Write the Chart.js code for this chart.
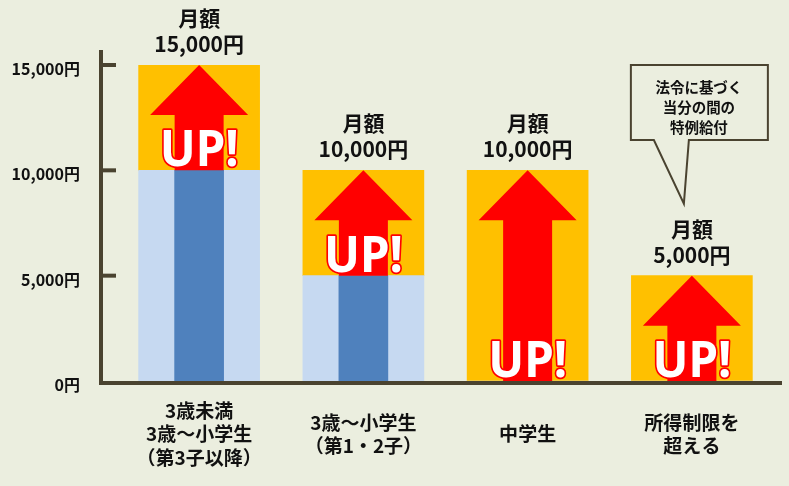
<!DOCTYPE html>
<html><head><meta charset="utf-8">
<script src="https://cdn.jsdelivr.net/npm/chart.js@4.4.1/dist/chart.umd.min.js"></script>
<style>html,body{margin:0;padding:0;background:#ebeedf;}canvas{display:block}</style>
</head><body><canvas id="c" width="789" height="486"></canvas>
<script>
const categories = [["3歳未満","3歳〜小学生","（第3子以降）"],["3歳〜小学生","（第1・2子）"],"中学生",["所得制限を","超える"]];
const previousAmount = [10000, 5000, 0, 0];
const increaseAmount = [5000, 5000, 10000, 5000];
const yTickValues = [0, 5000, 10000, 15000];
const calloutLines = ["法令に基づく","当分の間の","特例給付"];
const upLabel = "UP!";
const amountPrefix = "月額";
const currency = "円";

const BG = '#ebeedf', AXIS = '#4a4330';
const JP = '"Noto Sans CJK JP","Noto Sans",sans-serif';

const bgPlugin = {
  id:'bg',
  beforeDraw(chart){
    const c = chart.ctx; c.save(); c.fillStyle = BG; c.fillRect(0,0,chart.width,chart.height); c.restore();
  }
};

const decoPlugin = {
  id:'deco',
  afterDatasetsDraw(chart){
    const ctx = chart.ctx;
    const xs = chart.scales.x, ys = chart.scales.y;
    const incMeta = chart.getDatasetMeta(2);
    const shaftW = chart.data.datasets[0].barThickness;
    // arrows
    incMeta.data.forEach((bar,i)=>{
      const p = bar.getProps(['x','y','base','width'], true);
      const top = Math.min(p.y,p.base), bot = Math.max(p.y,p.base);
      const headW = p.width*0.81, headH = 50;
      ctx.save();
      ctx.fillStyle = '#ff0000';
      ctx.beginPath();
      ctx.moveTo(p.x, top);
      ctx.lineTo(p.x+headW/2, top+headH);
      ctx.lineTo(p.x+shaftW/2, top+headH);
      ctx.lineTo(p.x+shaftW/2, bot);
      ctx.lineTo(p.x-shaftW/2, bot);
      ctx.lineTo(p.x-shaftW/2, top+headH);
      ctx.lineTo(p.x-headW/2, top+headH);
      ctx.closePath();
      ctx.fill();
      // UP!
      ctx.font = 'bold 50px "Noto Sans", "Open Sans", sans-serif';
      ctx.textAlign = 'center'; ctx.textBaseline = 'alphabetic';
      const w = ctx.measureText(upLabel).width;
      ctx.translate(p.x, bot-4);
      ctx.scale(79/w, 1);
      ctx.lineJoin = 'round';
      ctx.lineWidth = 3.5; ctx.strokeStyle = '#ff0000';
      ctx.strokeText(upLabel, 0, 0);
      ctx.fillStyle = '#ffffff';
      ctx.fillText(upLabel, 0, 0);
      ctx.restore();
    });
    // axes
    ctx.save();
    ctx.fillStyle = AXIS;
    const x0 = chart.chartArea.left - 18;
    const yb = ys.getPixelForValue(0);
    ctx.fillRect(x0, ys.getPixelForValue(15000)-15, 4, yb - ys.getPixelForValue(15000) + 19);
    ctx.fillRect(x0, yb, chart.chartArea.right + 8 - x0, 4);
    yTickValues.forEach(v=>{
      if (v===0) return;
      const py = ys.getPixelForValue(v);
      ctx.fillRect(x0+4, py-2, 13, 4);
    });
    ctx.restore();
    // amount labels above bars
    ctx.save();
    ctx.fillStyle = '#111';
    ctx.textAlign = 'center'; ctx.textBaseline = 'middle';
    ctx.font = 'bold 21px ' + JP;
    categories.forEach((c,i)=>{
      const total = previousAmount[i] + increaseAmount[i];
      const px = xs.getPixelForValue(i);
      const py = ys.getPixelForValue(total);
      ctx.fillText(amountPrefix, px, py-47);
      ctx.fillText(total.toLocaleString('en-US') + currency, px, py-21);
    });
    ctx.restore();
    // callout bubble
    const cx = xs.getPixelForValue(3) + 7;
    const bt = ys.getPixelForValue(15000);
    const L = cx-68, R = cx+69, T = bt, B = bt+75;
    const tipX = cx-15, tipY = ys.getPixelForValue(5000) - 72;
    ctx.save();
    ctx.beginPath();
    ctx.moveTo(L, T); ctx.lineTo(R, T); ctx.lineTo(R, B);
    ctx.lineTo(cx-10, B); ctx.lineTo(tipX, tipY); ctx.lineTo(cx-45, B);
    ctx.lineTo(L, B); ctx.closePath();
    ctx.fillStyle = BG; ctx.fill();
    ctx.strokeStyle = AXIS; ctx.lineWidth = 2; ctx.lineJoin = 'miter';
    ctx.stroke();
    ctx.fillStyle = '#111'; ctx.textAlign = 'center'; ctx.textBaseline = 'middle';
    ctx.font = 'bold 14.5px ' + JP;
    calloutLines.forEach((t,k)=> ctx.fillText(t, cx, T + 22 + k*20));
    ctx.restore();
  }
};

new Chart(document.getElementById('c'), {
  type:'bar',
  data:{
    labels: categories,
    datasets:[
      {label:'inner', data: previousAmount, backgroundColor:'#4f81bd', barThickness:49, stack:'inner', order:0},
      {label:'previous', data: previousAmount, backgroundColor:'#c6d9f1', barThickness:121, stack:'main', order:1},
      {label:'increase', data: increaseAmount, backgroundColor:'#ffc000', barThickness:121, stack:'main', order:1}
    ]
  },
  options:{
    responsive:false, animation:false, devicePixelRatio:1,
    layout:{padding:{left:0,right:15,top:65,bottom:0}},
    datasets:{bar:{grouped:false, borderWidth:0}},
    plugins:{legend:{display:false}, tooltip:{enabled:false}},
    scales:{
      x:{
        stacked:true,
        grid:{display:false, drawTicks:false},
        border:{display:false},
        afterFit(s){ s.height = 105; },
        ticks:{color:'#111', padding:30, crossAlign:'center', maxRotation:0, autoSkip:false,
          font:{family:JP, size:19, weight:'bold', lineHeight:1.22}}
      },
      y:{
        stacked:true, min:0, max:15000,
        grid:{display:false, drawTicks:false, tickLength:0},
        border:{display:false},
        afterFit(s){ s.width = 117; },
        afterBuildTicks(s){ s.ticks = yTickValues.map(v=>({value:v})); },
        ticks:{color:'#111', padding:37, labelOffset:4,
          font:{family:JP, size:16, weight:'bold'},
          callback:(v)=> Number(v).toLocaleString('en-US') + currency}
      }
    }
  },
  plugins:[bgPlugin, decoPlugin]
});
</script></body></html>
